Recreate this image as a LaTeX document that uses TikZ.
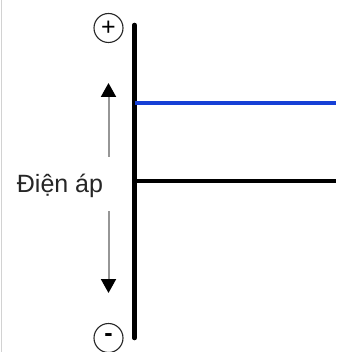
\documentclass[tikz,border=0pt]{standalone}
\usepackage{fontspec}
\setmainfont{Liberation Sans}
\usetikzlibrary{arrows.meta}
\definecolor{wireblue}{RGB}{22,64,214}
\definecolor{shaftgray}{RGB}{150,150,150}
\definecolor{edgegray}{RGB}{210,210,210}
\begin{document}
\begin{tikzpicture}[x=1pt,y=-1pt,
  terminal/.style={circle,draw=black!85,line width=1.1pt,minimum size=29pt,inner sep=0pt,font=\fontsize{25}{25}\selectfont},
  rail/.style={line width=4.5pt,black,line cap=round},
  wire/.style={line width=3.5pt},
  volt/.style={shaftgray,line width=2pt,-{Triangle[width=15pt,length=14pt,color=black]}},
  label/.style={font=\fontsize{25}{25}\selectfont,text=black!85,inner sep=0pt}]
  \useasboundingbox (0,0) rectangle (336,352);
  \fill[white] (0,0) rectangle (336,352);
  % frame edge on the left
  \draw[edgegray,line width=1.5pt] (1.5,0) -- (1.5,352);
  % terminals
  \node[terminal] (plus) at (108.5,28) {+};
  \node[terminal] (minus) at (108.5,338) {\textbf{-}};
  % main rail
  \coordinate (railtop) at (134.5,25);
  \coordinate (railbot) at (134.5,338);
  \draw[rail] (railtop) -- (railbot);
  % output lines
  \coordinate (blueL) at (134.5,103);
  \coordinate (blueR) at (336,103);
  \coordinate (blackL) at (134.5,181);
  \coordinate (blackR) at (336,181);
  \draw[wire,wireblue] (blueL) -- (blueR);
  \draw[wire,black] (blackL) -- (blackR);
  % voltage label and arrows
  \node[label,anchor=base] (lbl) at (60,192) {Điện áp};
  \coordinate (upS) at (108.5,157);
  \coordinate (upE) at (108.5,83);
  \coordinate (dnS) at (108.5,211);
  \coordinate (dnE) at (108.5,293);
  \draw[volt] (upS) -- (upE);
  \draw[volt] (dnS) -- (dnE);
\end{tikzpicture}
\end{document}
